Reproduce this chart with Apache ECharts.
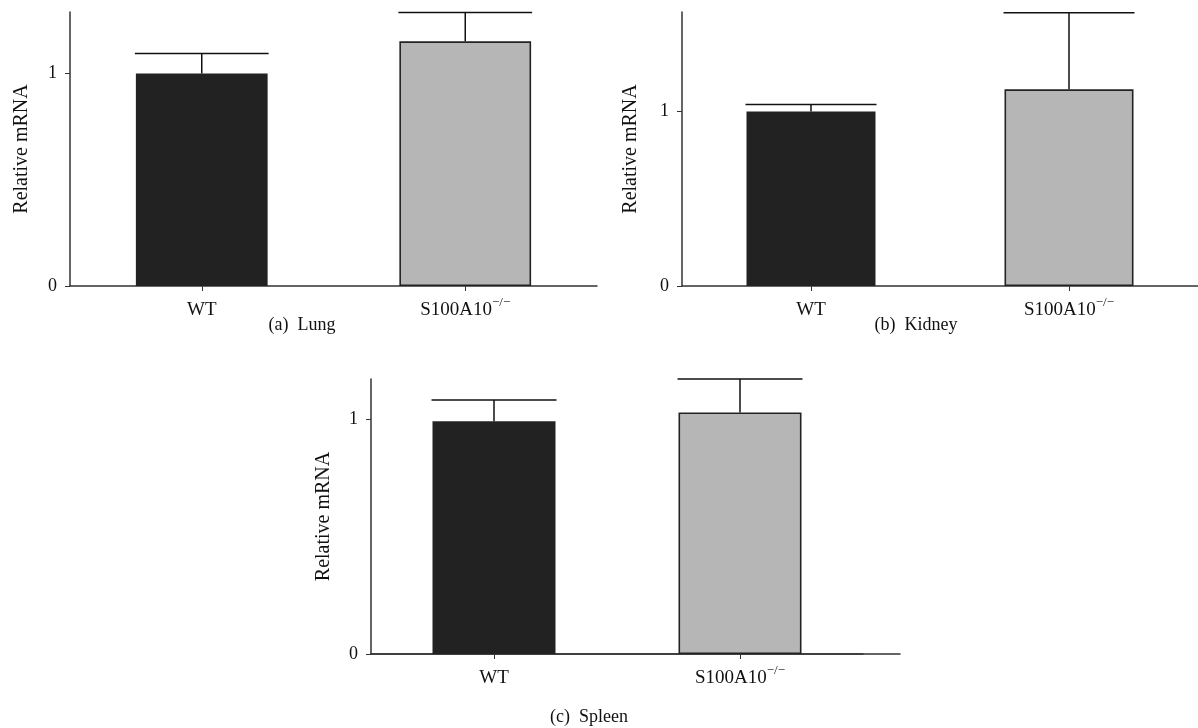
<!DOCTYPE html>
<html><head><meta charset="utf-8">
<script src="https://cdn.jsdelivr.net/npm/echarts@6/dist/echarts.min.js"></script>
<style>html,body{margin:0;padding:0;background:#fff}#c{width:1198px;height:728px}</style>
</head><body><div id="c"></div>
<script>
const categories = ['WT', 'S100A10'];
const yTicks = [0, 1];
const lungMean = [1.0, 1.152];
const lungErr = [0.095, 0.136];
const kidneyMean = [1.0, 1.127];
const kidneyErr = [0.04, 0.439];
const spleenMean = [0.99, 1.028];
const spleenErr = [0.091, 0.142];
const axisMax = [1.29, 1.57, 1.17];
const captions = ['(a)  Lung', '(b)  Kidney', '(c)  Spleen'];
const barColors = ['#222222', '#b6b6b6'];

const FONT = 'Liberation Serif';
const chart = echarts.init(document.getElementById('c'));

const grids = [
  {left: 70, top: 12, width: 527, height: 274},
  {left: 682, top: 12, width: 526, height: 274},
  {left: 371, top: 379, width: 492, height: 275},
  {left: 371, top: 379, width: 529, height: 275}
];
const nameGaps = [38, 41, 37];

function xAxisFor(i) {
  return {
    type: 'category', gridIndex: i, data: categories,
    axisLine: {lineStyle: {color: '#333', width: 1.5}},
    axisTick: {show: true, alignWithLabel: true, length: 5, lineStyle: {color: '#333', width: 1}},
    axisLabel: {
      margin: 14, fontFamily: FONT, fontSize: 19, color: '#111',
      formatter: v => v === 'WT' ? '{m|WT}' : '{m|' + v + '}{sup|−/−}',
      rich: {
        m: {fontSize: 19, fontFamily: FONT, color: '#111', lineHeight: 20},
        sup: {fontSize: 13, fontFamily: FONT, color: '#111', lineHeight: 20, padding: [0, 0, 14, 0]}
      }
    }
  };
}
function yAxisFor(i) {
  return {
    type: 'value', gridIndex: i, min: 0, max: axisMax[i], interval: 1,
    name: 'Relative mRNA', nameLocation: 'middle', nameGap: nameGaps[i],
    nameTextStyle: {fontFamily: FONT, fontSize: 20, color: '#111'},
    splitLine: {show: false},
    axisLine: {show: true, lineStyle: {color: '#333', width: 1.5}},
    axisTick: {show: true, length: 5, customValues: yTicks, lineStyle: {color: '#333', width: 1}},
    axisLabel: {fontFamily: FONT, fontSize: 18, color: '#111', margin: 13, customValues: yTicks,
      formatter: v => yTicks.includes(v) ? String(v) : ''}
  };
}

function barSeries(i, mean) {
  return {
    type: 'bar', xAxisIndex: i, yAxisIndex: i, barWidth: '50%',
    data: mean.map((v, k) => ({value: v, itemStyle: {color: barColors[k], borderColor: '#222', borderWidth: k === 1 ? 1.6 : 0}})),
    z: 2
  };
}
function errSeries(i, mean, err) {
  return {
    type: 'custom', xAxisIndex: i, yAxisIndex: i, z: 3,
    data: mean.map((v, k) => [k, v, v + err[k]]),
    renderItem: (params, api) => {
      const base = api.coord([api.value(0), api.value(1)]);
      const top = api.coord([api.value(0), api.value(2)]);
      const half = api.size([1, 0])[0] * 0.25 + 1;
      const st = {stroke: '#111', lineWidth: 1.5};
      return {type: 'group', children: [
        {type: 'line', shape: {x1: base[0], y1: base[1], x2: top[0], y2: top[1]}, style: st},
        {type: 'line', shape: {x1: top[0] - half, y1: top[1], x2: top[0] + half, y2: top[1]}, style: st}
      ]};
    }
  };
}

const xAxes = [xAxisFor(0), xAxisFor(1), xAxisFor(2),
  {type: 'category', gridIndex: 3, data: [], axisLine: {lineStyle: {color: '#333', width: 1.5}},
   axisTick: {show: false}, axisLabel: {show: false}}];
const yAxes = [yAxisFor(0), yAxisFor(1), yAxisFor(2),
  {type: 'value', gridIndex: 3, show: false, min: 0, max: 1}];

const capStyle = {fontFamily: FONT, fontSize: 18, fontWeight: 'normal', color: '#111'};
chart.setOption({
  backgroundColor: '#fff',
  animation: false,
  title: [
    {text: captions[0], left: 297, top: 311, textAlign: 'center', textStyle: capStyle},
    {text: captions[1], left: 911, top: 311, textAlign: 'center', textStyle: capStyle},
    {text: captions[2], left: 584, top: 703, textAlign: 'center', textStyle: capStyle}
  ],
  grid: grids,
  xAxis: xAxes,
  yAxis: yAxes,
  series: [
    barSeries(0, lungMean), errSeries(0, lungMean, lungErr),
    barSeries(1, kidneyMean), errSeries(1, kidneyMean, kidneyErr),
    barSeries(2, spleenMean), errSeries(2, spleenMean, spleenErr)
  ]
});
</script></body></html>
